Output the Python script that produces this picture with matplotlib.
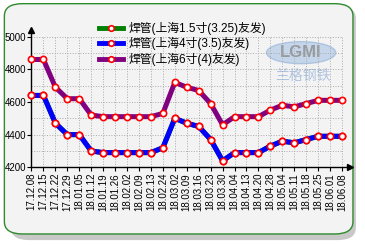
import matplotlib.pyplot as plt
from matplotlib.patches import FancyBboxPatch, Ellipse

plt.rcParams['font.family'] = ['Liberation Sans', 'Noto Sans CJK SC', 'DejaVu Sans']

dates = ["17.12.08", "17.12.15", "17.12.22", "17.12.29", "18.01.05", "18.01.12",
         "18.01.19", "18.01.26", "18.02.02", "18.02.09", "18.02.13", "18.02.24",
         "18.03.02", "18.03.09", "18.03.16", "18.03.23", "18.03.30", "18.04.04",
         "18.04.13", "18.04.20", "18.04.28", "18.05.04", "18.05.11", "18.05.18",
         "18.05.25", "18.06.01", "18.06.08"]

pipe_15 = [4640, 4640, 4470, 4400, 4400, 4300, 4290, 4290, 4290, 4290, 4290, 4320,
           4500, 4470, 4450, 4370, 4240, 4290, 4290, 4290, 4330, 4360, 4350, 4370,
           4390, 4390, 4390]
pipe_4 = [4640, 4640, 4470, 4400, 4400, 4300, 4290, 4290, 4290, 4290, 4290, 4320,
          4500, 4470, 4450, 4370, 4240, 4290, 4290, 4290, 4330, 4360, 4350, 4370,
          4390, 4390, 4390]
pipe_6 = [4860, 4860, 4690, 4620, 4620, 4520, 4510, 4510, 4510, 4510, 4510, 4530,
          4720, 4690, 4670, 4590, 4460, 4510, 4510, 4510, 4550, 4580, 4570, 4590,
          4610, 4610, 4610]

labels = ["焊管(上海1.5寸(3.25)友发)", "焊管(上海4寸(3.5)友发)", "焊管(上海6寸(4)友发)"]
colors = ["#008000", "#0000ff", "#800080"]

fig = plt.figure(figsize=(3.65, 2.45), dpi=100)
fig.patch.set_facecolor("white")

# panel with shadow
shadow = FancyBboxPatch((0.03, 0.02), 0.945, 0.955, boxstyle="round,pad=0,rounding_size=0.05",
                        transform=fig.transFigure, facecolor="#c8c8c8", edgecolor="none", zorder=-2)
panel = FancyBboxPatch((0.012, 0.045), 0.955, 0.94, boxstyle="round,pad=0,rounding_size=0.05",
                       transform=fig.transFigure, facecolor="#f3f3f3", edgecolor="#2e8b2e",
                       linewidth=1.0, zorder=-1)
logo = Ellipse((0.825, 0.785), 0.19, 0.09, transform=fig.transFigure,
               facecolor="#a9c4e4", edgecolor="#8fb0d8", alpha=0.6, zorder=-0.5)
fig.patches.extend([shadow, panel, logo])
fig.text(0.825, 0.785, "LGMI", ha="center", va="center", fontsize=12, fontweight="bold",
         color="#8a8a8a", alpha=0.8, zorder=-0.4)
fig.text(0.83, 0.69, "兰格钢铁", ha="center", va="center", fontsize=10,
         color="#9db8dc", alpha=0.8, zorder=-0.4)

ax = fig.add_axes([0.0863, 0.317, 0.8727, 0.561])
ax.set_facecolor("none")
ax.set_zorder(1)
x = list(range(len(dates)))

lines = []
for vals, c, lab in zip([pipe_15, pipe_4, pipe_6], colors, labels):
    ln, = ax.plot(x, vals, color=c, linewidth=3.6, solid_joinstyle="round",
                  marker="o", markersize=4.5, markerfacecolor="white",
                  markeredgecolor="red", markeredgewidth=1.2, label=lab,
                  clip_on=False, zorder=3)
    lines.append(ln)

ax.set_xlim(0, 26.67)
ax.set_ylim(4200, 5041)
ax.set_xticks(x)
ax.set_xticklabels(dates, rotation=90, fontsize=7)
ax.set_yticks([4200, 4400, 4600, 4800, 5000])
ax.set_yticklabels(["4200", "4400", "4600", "4800", "5000"], fontsize=7)
ax.tick_params(axis="both", length=3, width=0.8, pad=1)
for v in range(4300, 5001, 100):
    ax.plot([0, 26], [v, v], color="#aaaaaa", linestyle=":", linewidth=0.7, zorder=1)
for xi in x[1:]:
    ax.plot([xi, xi], [4200, 5000], color="#aaaaaa", linestyle=":", linewidth=0.7, zorder=1)

for s in ["top", "right"]:
    ax.spines[s].set_visible(False)
ax.spines["left"].set_linewidth(1.0)
ax.spines["bottom"].set_linewidth(1.0)
ax.plot(1, 0, ">k", transform=ax.transAxes, clip_on=False, markersize=5)
ax.plot(0, 1, "^k", transform=ax.transAxes, clip_on=False, markersize=5)

leg = fig.legend(handles=lines, loc="upper left", bbox_to_anchor=(0.255, 0.935),
                 frameon=False, fontsize=8.5, handlelength=2.0, handletextpad=0.5,
                 labelspacing=0.2, borderpad=0)
leg.set_zorder(5)
for h in leg.legend_handles:
    h.set_linewidth(3.5)
    h.set_markersize(4)

fig.savefig("out.png", dpi=100)
